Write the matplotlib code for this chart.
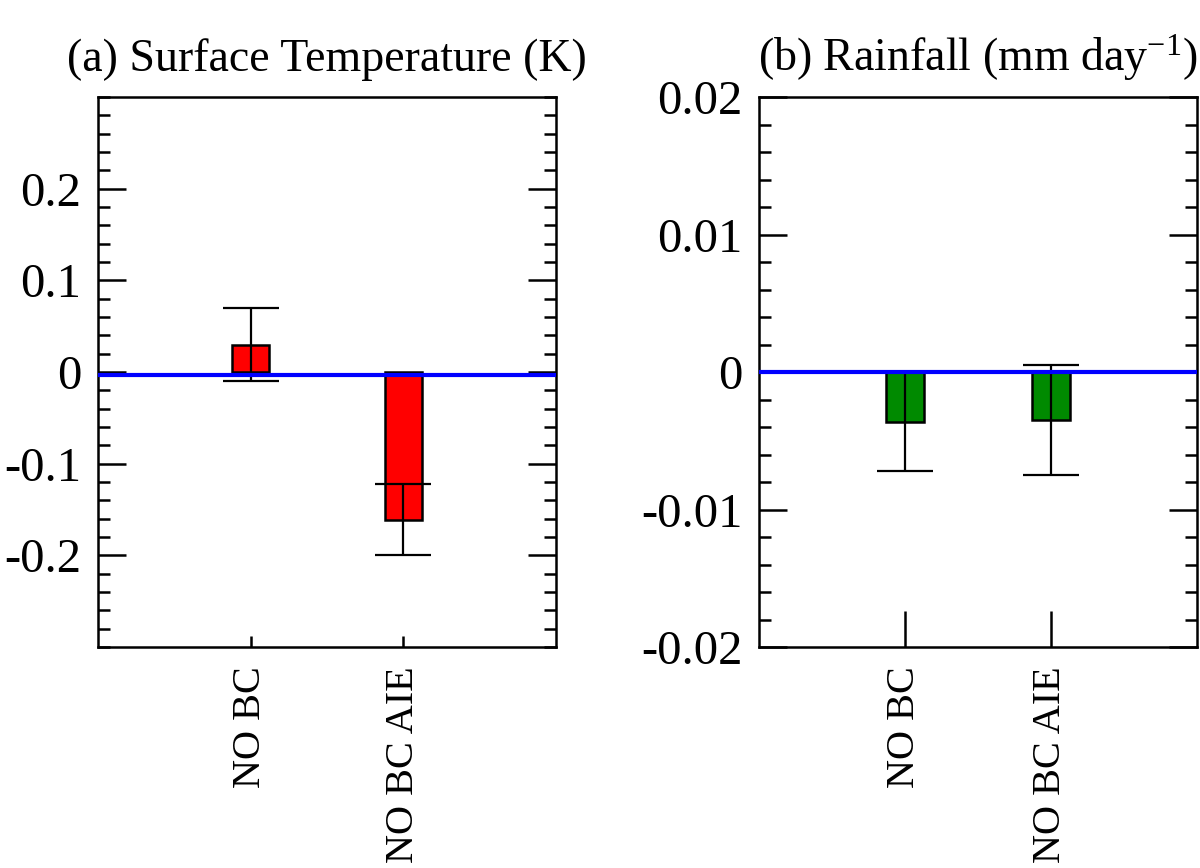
import matplotlib
matplotlib.use("Agg")
import matplotlib.pyplot as plt
from matplotlib.ticker import MultipleLocator, FixedLocator

plt.rcParams['font.family'] = ['Liberation Serif', 'DejaVu Serif']
plt.rcParams['mathtext.fontset'] = 'custom'
plt.rcParams['mathtext.rm'] = 'Liberation Serif'
plt.rcParams['mathtext.it'] = 'Liberation Serif:italic'
plt.rcParams['axes.linewidth'] = 1.8

# data
categories = ['NO BC', 'NO BC AIE']
xpos = [1, 2]
temp = [0.030, -0.161]
temp_err = [0.040, 0.039]
rain = [-0.0036, -0.0035]
rain_err = [0.0036, 0.0040]
temp_zero = -0.003
rain_zero = 0.0

fig = plt.figure(figsize=(12, 8.68), dpi=100)
ax1 = fig.add_axes([0.0817, 0.2546, 0.3817, 0.6336])
ax2 = fig.add_axes([0.6325, 0.2546, 0.365, 0.6336])


def style(ax, major, minor, xtick_len):
    ax.yaxis.set_major_locator(FixedLocator(major))
    ax.yaxis.set_minor_locator(MultipleLocator(minor))
    ax.tick_params(axis='y', which='major', direction='in', length=20, width=1.8,
                   right=True, labelsize=35, pad=12)
    ax.tick_params(axis='y', which='minor', direction='in', length=8.3, width=1.8,
                   right=True)
    ax.tick_params(axis='x', which='major', direction='in', length=xtick_len,
                   width=1.8, top=False, labelsize=29, pad=14, labelrotation=90)
    ax.set_xlim(0, 3)
    ax.set_xticks(xpos)
    ax.set_xticklabels(categories)


ax1.bar(xpos, temp, width=0.24, color='#ff0000', edgecolor='black', linewidth=1.8,
        yerr=temp_err, error_kw=dict(ecolor='black', elinewidth=1.6, capsize=20,
                                     capthick=1.6), zorder=2)
ax1.axhline(temp_zero, color='#0000ff', linewidth=3, zorder=3)
ax1.set_ylim(-0.3, 0.3)
style(ax1, [-0.2, -0.1, 0, 0.1, 0.2], 0.02, 8)
ax1.set_yticklabels(['-0.2', '-0.1', '0', '0.1', '0.2'])
ax1.set_title('(a) Surface Temperature (K)', fontsize=33, pad=19)

ax2.bar(xpos, rain, width=0.255, color='#008a00', edgecolor='black', linewidth=1.8,
        yerr=rain_err, error_kw=dict(ecolor='black', elinewidth=1.6, capsize=20,
                                     capthick=1.6), zorder=2)
ax2.axhline(rain_zero, color='#0000ff', linewidth=3, zorder=3)
ax2.set_ylim(-0.02, 0.02)
style(ax2, [-0.02, -0.01, 0, 0.01, 0.02], 0.002, 26)
ax2.set_yticklabels(['-0.02', '-0.01', '0', '0.01', '0.02'])
ax2.set_title(r'(b) Rainfall (mm day$^{\mathrm{-1}}$)', fontsize=33, pad=19)

fig.savefig('out.png', dpi=100)
